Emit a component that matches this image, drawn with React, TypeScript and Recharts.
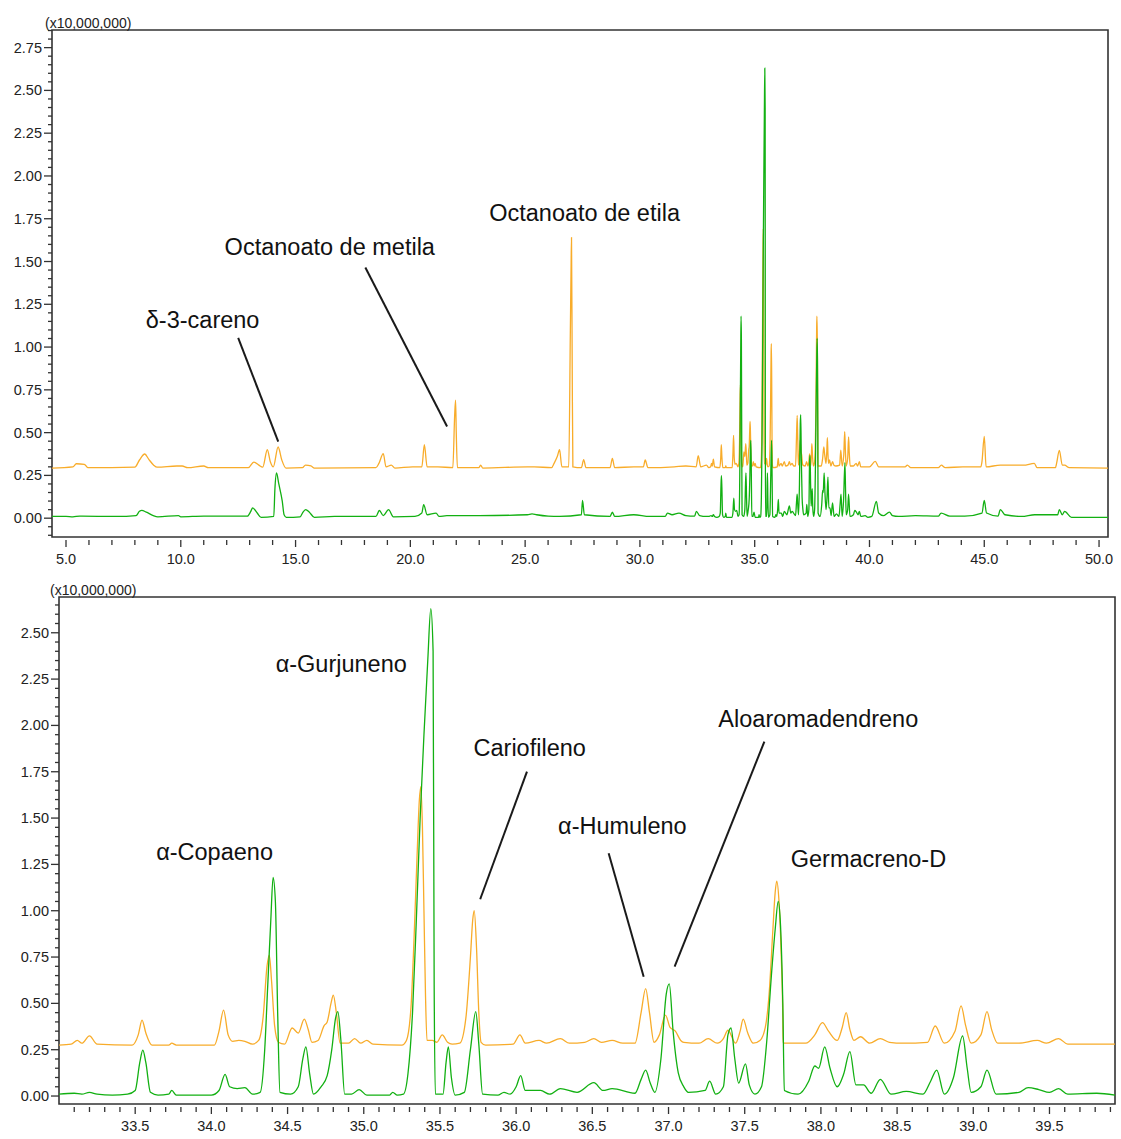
import React from "react";
import { LineChart, Line, XAxis, YAxis, ReferenceLine, ReferenceDot, ReferenceArea } from "recharts";

type Pt = [number, number];

const FONT = "'Liberation Sans', Arial, sans-serif";
const ORANGE = "#F8AC2A";
const GREEN = "#12B012";
const AXIS = "#333";

// retention time (min), intensity (x10,000,000)
const orangeEarly: Pt[] = [
  [4.39, 0.293], [5.3, 0.3], [5.45, 0.318], [5.8, 0.315], [5.95, 0.295], [8.0, 0.298], [8.2, 0.34],
  [8.43, 0.375], [8.6, 0.345], [8.82, 0.31], [8.97, 0.298], [9.83, 0.305], [10.06, 0.305], [10.3, 0.295],
  [11.0, 0.305], [11.2, 0.295], [12.94, 0.295], [13.18, 0.328], [13.4, 0.31], [13.57, 0.298], [13.77, 0.4],
  [13.9, 0.33], [14.03, 0.3], [14.24, 0.416], [14.4, 0.34], [14.58, 0.293], [15.3, 0.295], [15.43, 0.31],
  [15.67, 0.305], [15.82, 0.293], [18.5, 0.295], [18.63, 0.32], [18.82, 0.377], [18.94, 0.3], [19.17, 0.31],
  [19.33, 0.293], [20.1, 0.3], [20.3, 0.3], [20.5, 0.3], [20.61, 0.43], [20.73, 0.3], [21.2, 0.3],
  [21.85, 0.295], [21.93, 0.6], [21.97, 0.69], [22.0, 0.5], [22.05, 0.295], [22.98, 0.295], [23.06, 0.31],
  [23.15, 0.293], [25.1, 0.3], [25.4, 0.3], [26.15, 0.295], [26.26, 0.32], [26.4, 0.36], [26.5, 0.4],
  [26.6, 0.3], [26.9, 0.3], [26.97, 1.1], [27.0, 1.45], [27.02, 1.64], [27.05, 0.9], [27.08, 0.3],
  [27.45, 0.295], [27.55, 0.342], [27.65, 0.295], [28.7, 0.295], [28.8, 0.35], [28.9, 0.295], [29.74, 0.3],
  [29.9, 0.3], [30.15, 0.3], [30.23, 0.34], [30.35, 0.295], [31.5, 0.3], [32.0, 0.305], [32.45, 0.3],
  [32.54, 0.365], [32.65, 0.3], [32.9, 0.31],
];

const orangeLate: Pt[] = [
  [40.0, 0.3], [40.25, 0.332], [40.4, 0.3], [41.0, 0.3], [41.55, 0.3], [41.65, 0.31], [41.8, 0.295],
  [43.0, 0.295], [43.13, 0.31], [43.3, 0.295], [44.07, 0.3], [44.85, 0.3], [44.9, 0.33], [45.0, 0.478],
  [45.08, 0.3], [45.7, 0.31], [46.71, 0.31], [47.18, 0.32], [47.3, 0.295], [48.1, 0.295], [48.15, 0.32],
  [48.27, 0.396], [48.4, 0.31], [48.5, 0.31], [48.7, 0.295], [50.39, 0.293],
];

const greenEarly: Pt[] = [
  [4.39, 0.01], [5.0, 0.01], [5.3, 0.008], [5.6, 0.012], [7.2, 0.01], [8.05, 0.015], [8.2, 0.04],
  [8.3, 0.046], [8.5, 0.035], [8.8, 0.015], [9.0, 0.008], [9.9, 0.015], [10.0, 0.008], [11.0, 0.012],
  [12.0, 0.012], [12.9, 0.012], [13.05, 0.04], [13.13, 0.06], [13.33, 0.03], [13.5, 0.005], [14.05, 0.01],
  [14.1, 0.17], [14.17, 0.264], [14.27, 0.2], [14.42, 0.1], [14.5, 0.02], [14.6, 0.005], [15.2, 0.008],
  [15.3, 0.03], [15.44, 0.05], [15.6, 0.035], [15.82, 0.005], [16.7, 0.01], [18.5, 0.01], [18.65, 0.045],
  [18.82, 0.015], [19.05, 0.05], [19.26, 0.008], [20.2, 0.01], [20.5, 0.03], [20.58, 0.079], [20.73, 0.02],
  [21.12, 0.03], [21.25, 0.01], [21.59, 0.015], [22.99, 0.015], [25.1, 0.02], [25.3, 0.025], [25.5, 0.02],
  [26.0, 0.012], [26.5, 0.01], [27.45, 0.02], [27.5, 0.104], [27.58, 0.02], [28.7, 0.01], [28.8, 0.035],
  [28.9, 0.01], [29.73, 0.02], [30.43, 0.01], [31.1, 0.01], [31.2, 0.03], [31.4, 0.02], [31.7, 0.03],
  [32.0, 0.015], [32.38, 0.012], [32.46, 0.04], [32.6, 0.015], [32.9, 0.01],
];

const greenLate: Pt[] = [
  [40.1, 0.01], [40.3, 0.098], [40.4, 0.03], [40.6, 0.015], [40.87, 0.035], [41.0, 0.015], [41.26, 0.01],
  [42.0, 0.015], [43.0, 0.012], [43.12, 0.03], [43.5, 0.012], [44.15, 0.012], [44.9, 0.03], [45.0, 0.104],
  [45.1, 0.03], [45.6, 0.012], [45.7, 0.05], [45.9, 0.02], [46.63, 0.01], [47.2, 0.02], [48.2, 0.02],
  [48.27, 0.05], [48.4, 0.02], [48.5, 0.04], [48.8, 0.005], [50.39, 0.005],
];

// 33.0 - 39.93 min
const orangeDetail: Pt[] = [
  [33.0, 0.275], [33.08, 0.28], [33.12, 0.3], [33.15, 0.285], [33.2, 0.325], [33.25, 0.28], [33.48, 0.275],
  [33.52, 0.33], [33.545, 0.41], [33.57, 0.34], [33.61, 0.275], [33.72, 0.275], [33.74, 0.285], [33.77, 0.275],
  [34.02, 0.275], [34.05, 0.35], [34.08, 0.464], [34.11, 0.33], [34.14, 0.295], [34.18, 0.3], [34.22, 0.295],
  [34.27, 0.28], [34.31, 0.3], [34.34, 0.43], [34.365, 0.7], [34.38, 0.76], [34.395, 0.62], [34.415, 0.38],
  [34.44, 0.29], [34.48, 0.28], [34.53, 0.367], [34.57, 0.34], [34.61, 0.415], [34.635, 0.36], [34.66, 0.29],
  [34.7, 0.3], [34.74, 0.38], [34.76, 0.4], [34.785, 0.5], [34.8, 0.545], [34.82, 0.45], [34.845, 0.285],
  [34.9, 0.285], [34.94, 0.31], [34.98, 0.285], [35.02, 0.3], [35.06, 0.28], [35.25, 0.275], [35.28, 0.3],
  [35.31, 0.48], [35.33, 0.85], [35.35, 1.3], [35.365, 1.6], [35.375, 1.67], [35.385, 1.45], [35.395, 1.0],
  [35.405, 0.55], [35.415, 0.3], [35.45, 0.3], [35.48, 0.29], [35.515, 0.33], [35.55, 0.29], [35.58, 0.28],
  [35.63, 0.285], [35.67, 0.42], [35.7, 0.75], [35.715, 0.95], [35.725, 1.0], [35.74, 0.8], [35.755, 0.45],
  [35.77, 0.29], [35.8, 0.275], [35.98, 0.28], [36.025, 0.33], [36.06, 0.285], [36.15, 0.3], [36.2, 0.285],
  [36.29, 0.31], [36.35, 0.285], [36.45, 0.29], [36.51, 0.31], [36.56, 0.29], [36.63, 0.3], [36.7, 0.285],
  [36.78, 0.285], [36.82, 0.45], [36.85, 0.58], [36.875, 0.45], [36.905, 0.29], [36.94, 0.33], [36.98, 0.437],
  [37.01, 0.37], [37.045, 0.35], [37.08, 0.3], [37.1, 0.29], [37.2, 0.285], [37.26, 0.31], [37.32, 0.285],
  [37.36, 0.31], [37.39, 0.355], [37.44, 0.285], [37.47, 0.35], [37.49, 0.415], [37.52, 0.34], [37.556, 0.285],
  [37.6, 0.3], [37.635, 0.37], [37.66, 0.55], [37.685, 0.9], [37.7, 1.1], [37.71, 1.16], [37.725, 1.05],
  [37.74, 0.75], [37.75, 0.42], [37.752, 0.285], [37.9, 0.285], [37.96, 0.33], [38.01, 0.396], [38.05, 0.35],
  [38.107, 0.3], [38.14, 0.37], [38.166, 0.45], [38.19, 0.36], [38.217, 0.3], [38.26, 0.32], [38.32, 0.285],
  [38.39, 0.31], [38.45, 0.29], [38.54, 0.285], [38.7, 0.29], [38.75, 0.378], [38.81, 0.285], [38.88, 0.35],
  [38.92, 0.486], [38.95, 0.38], [38.986, 0.285], [39.05, 0.33], [39.09, 0.455], [39.12, 0.36], [39.16, 0.285],
  [39.3, 0.285], [39.42, 0.3], [39.48, 0.285], [39.56, 0.31], [39.62, 0.28], [39.93, 0.28],
];

const greenDetail: Pt[] = [
  [33.0, 0.01], [33.1, 0.015], [33.15, 0.01], [33.2, 0.02], [33.25, 0.01], [33.35, 0.005], [33.45, 0.01],
  [33.5, 0.03], [33.53, 0.18], [33.55, 0.248], [33.57, 0.18], [33.6, 0.02], [33.65, 0.005], [33.72, 0.01],
  [33.74, 0.03], [33.77, 0.005], [34.0, 0.005], [34.05, 0.03], [34.09, 0.117], [34.12, 0.05], [34.17, 0.04],
  [34.22, 0.045], [34.27, 0.01], [34.32, 0.02], [34.35, 0.25], [34.37, 0.6], [34.39, 0.95], [34.405, 1.18],
  [34.42, 1.05], [34.435, 0.45], [34.45, 0.02], [34.52, 0.01], [34.57, 0.05], [34.6, 0.2], [34.62, 0.265],
  [34.645, 0.12], [34.67, 0.01], [34.72, 0.05], [34.76, 0.11], [34.79, 0.25], [34.815, 0.42], [34.83, 0.455],
  [34.85, 0.3], [34.875, 0.01], [34.92, 0.01], [34.97, 0.035], [35.02, 0.005], [35.17, 0.005], [35.19, 0.02],
  [35.22, 0.005], [35.26, 0.01], [35.29, 0.12], [35.32, 0.45], [35.345, 0.95], [35.37, 1.5], [35.395, 1.95],
  [35.42, 2.35], [35.44, 2.63], [35.455, 2.4], [35.462, 0.6], [35.47, 0.01], [35.52, 0.01], [35.54, 0.18],
  [35.555, 0.265], [35.575, 0.1], [35.6, 0.005], [35.66, 0.02], [35.7, 0.25], [35.735, 0.455], [35.755, 0.28],
  [35.78, 0.01], [35.88, 0.005], [35.92, 0.02], [35.96, 0.01], [36.0, 0.05], [36.03, 0.11], [36.06, 0.03],
  [36.16, 0.03], [36.22, 0.01], [36.29, 0.04], [36.4, 0.02], [36.51, 0.072], [36.57, 0.03], [36.63, 0.04],
  [36.78, 0.015], [36.82, 0.09], [36.85, 0.14], [36.88, 0.07], [36.91, 0.02], [36.95, 0.2], [36.985, 0.55],
  [37.005, 0.605], [37.03, 0.35], [37.064, 0.125], [37.1, 0.05], [37.13, 0.02], [37.24, 0.03], [37.27, 0.08],
  [37.31, 0.01], [37.36, 0.05], [37.39, 0.33], [37.41, 0.367], [37.435, 0.2], [37.46, 0.07], [37.505, 0.173],
  [37.53, 0.06], [37.567, 0.01], [37.61, 0.05], [37.645, 0.3], [37.675, 0.65], [37.7, 0.9], [37.72, 1.05],
  [37.735, 0.92], [37.75, 0.5], [37.76, 0.03], [37.85, 0.01], [37.92, 0.08], [37.96, 0.162], [37.985, 0.15],
  [38.025, 0.265], [38.06, 0.15], [38.107, 0.05], [38.15, 0.12], [38.19, 0.24], [38.23, 0.06], [38.28, 0.06],
  [38.33, 0.015], [38.39, 0.09], [38.46, 0.01], [38.56, 0.025], [38.67, 0.01], [38.72, 0.08], [38.76, 0.14],
  [38.81, 0.01], [38.87, 0.1], [38.93, 0.324], [38.96, 0.15], [38.986, 0.02], [39.05, 0.05], [39.09, 0.14],
  [39.15, 0.01], [39.3, 0.02], [39.36, 0.045], [39.43, 0.035], [39.5, 0.02], [39.56, 0.04], [39.62, 0.01],
  [39.81, 0.015], [39.93, 0.005],
];

const topXMajor = [5, 10, 15, 20, 25, 30, 35, 40, 45, 50];
const bottomXMajor = [33.5, 34.0, 34.5, 35.0, 35.5, 36.0, 36.5, 37.0, 37.5, 38.0, 38.5, 39.0, 39.5];
const topYMajor = [0, 0.25, 0.5, 0.75, 1.0, 1.25, 1.5, 1.75, 2.0, 2.25, 2.5, 2.75];
const bottomYMajor = [0, 0.25, 0.5, 0.75, 1.0, 1.25, 1.5, 1.75, 2.0, 2.25, 2.5];

const topLabels = [
  { text: "δ-3-careno", t: 10.95, v: 1.159 },
  { text: "Octanoato de metila", t: 16.49, v: 1.586 },
  { text: "Octanoato de etila", t: 27.59, v: 1.784 },
];
const topLeaders: [Pt, Pt][] = [
  [[12.5, 1.054], [14.245, 0.447]],
  [[18.04, 1.465], [21.6, 0.536]],
];
const bottomLabels = [
  { text: "α-Gurjuneno", t: 34.852, v: 2.333 },
  { text: "Cariofileno", t: 36.089, v: 1.879 },
  { text: "α-Copaeno", t: 34.021, v: 1.319 },
  { text: "α-Humuleno", t: 36.697, v: 1.458 },
  { text: "Aloaromadendreno", t: 37.983, v: 2.034 },
  { text: "Germacreno-D", t: 38.312, v: 1.278 },
];
const bottomLeaders: [Pt, Pt][] = [
  [[36.071, 1.751], [35.764, 1.062]],
  [[36.607, 1.31], [36.837, 0.644]],
  [[37.629, 1.913], [37.04, 0.698]],
];

const TOP_X: [number, number] = [4.39, 50.39];
const TOP_Y: [number, number] = [-0.11, 2.853];
const BOT_X: [number, number] = [33.0, 39.93];
const BOT_Y: [number, number] = [-0.043, 2.693];
const TOP_ORANGE_SHIFT = 0.02;

const range = (a: number, b: number, step: number) => {
  const out: number[] = [];
  const n = Math.round((b - a) / step);
  for (let i = 0; i <= n; i++) out.push(Math.round((a + i * step) * 1000) / 1000);
  return out;
};

const rows = (pts: Pt[]) => pts.map(([t, v]) => ({ t, v }));

const topOrange = rows([...orangeEarly, ...orangeDetail.map(([t, v]) => [t, v + TOP_ORANGE_SHIFT] as Pt), ...orangeLate]);
const topGreen = rows([...greenEarly, ...greenDetail, ...greenLate]);
const botOrange = rows(orangeDetail);
const botGreen = rows(greenDetail);

const near = (list: number[], v: number) => list.some((m) => Math.abs(m - v) < 1e-6);

const makeXTick = (major: number[], digits: number) => (props: any) => {
  const { x, y, payload } = props;
  const v = payload.value as number;
  const isMajor = near(major, v);
  return (
    <g>
      <line x1={x} x2={x} y1={y + 3} y2={y + (isMajor ? 10 : 8)} stroke={AXIS} strokeWidth={1.3} />
      {isMajor && (
        <text x={x} y={y + 22} textAnchor="middle" dominantBaseline="central" fontSize={14.5} fill="#222" fontFamily={FONT}>
          {v.toFixed(digits)}
        </text>
      )}
    </g>
  );
};

const makeYTick = (major: number[]) => (props: any) => {
  const { x, y, payload } = props;
  const v = payload.value as number;
  const isMajor = near(major, v);
  return (
    <g>
      <line x1={x - (isMajor ? 8 : 4)} x2={x} y1={y} y2={y} stroke={AXIS} strokeWidth={1.3} />
      {isMajor && (
        <text x={x - 10} y={y} textAnchor="end" dominantBaseline="central" fontSize={14.5} fill="#222" fontFamily={FONT}>
          {v.toFixed(2)}
        </text>
      )}
    </g>
  );
};

const labelShape = (text: string) => (p: any) => (
  <text x={p.cx} y={p.cy} textAnchor="middle" dominantBaseline="central" fontSize={23.5} fill="#111" fontFamily={FONT}>
    {text}
  </text>
);

type PanelProps = {
  width: number;
  height: number;
  margin: { top: number; right: number; bottom: number; left: number };
  yWidth: number;
  xDomain: [number, number];
  yDomain: [number, number];
  xTicks: number[];
  xMajor: number[];
  yTicks: number[];
  yMajor: number[];
  orange: { t: number; v: number }[];
  green: { t: number; v: number }[];
  labels: { text: string; t: number; v: number }[];
  leaders: [Pt, Pt][];
};

function Panel(p: PanelProps) {
  return (
    <LineChart width={p.width} height={p.height} margin={p.margin}>
      <XAxis
        type="number"
        dataKey="t"
        domain={p.xDomain}
        allowDataOverflow
        ticks={p.xTicks}
        interval={0}
        tickSize={0}
        tickMargin={0}
        tickLine={false}
        axisLine={false}
        height={30}
        tick={makeXTick(p.xMajor, 1)}
      />
      <YAxis
        type="number"
        dataKey="v"
        domain={p.yDomain}
        allowDataOverflow
        ticks={p.yTicks}
        interval={0}
        tickSize={0}
        tickMargin={0}
        tickLine={false}
        axisLine={false}
        width={p.yWidth}
        tick={makeYTick(p.yMajor)}
      />
      <Line data={p.orange} dataKey="v" type="monotone" stroke={ORANGE} strokeWidth={1.3} dot={false} isAnimationActive={false} />
      <Line data={p.green} dataKey="v" type="monotone" stroke={GREEN} strokeWidth={1.3} dot={false} isAnimationActive={false} />
      {p.leaders.map(([a, b], i) => (
        <ReferenceLine
          key={"l" + i}
          segment={[{ x: a[0], y: a[1] }, { x: b[0], y: b[1] }]}
          stroke="#1a1a1a"
          strokeWidth={2}
          ifOverflow="visible"
        />
      ))}
      {p.labels.map((l) => (
        <ReferenceDot key={l.text} x={l.t} y={l.v} r={1} ifOverflow="visible" shape={labelShape(l.text)} />
      ))}
      <ReferenceArea
        x1={p.xDomain[0]}
        x2={p.xDomain[1]}
        y1={p.yDomain[0]}
        y2={p.yDomain[1]}
        fill="none"
        fillOpacity={0}
        stroke={AXIS}
        strokeWidth={1.6}
        ifOverflow="visible"
      />
    </LineChart>
  );
}

const multiplierStyle: React.CSSProperties = {
  position: "absolute",
  fontSize: 14,
  lineHeight: "16px",
  color: "#222",
  fontFamily: FONT,
  whiteSpace: "nowrap",
};

export default function App() {
  return (
    <div style={{ position: "absolute", left: 0, top: 0, width: 1121, height: 1139, background: "#fff", fontFamily: FONT }}>
      <div style={{ position: "absolute", left: 0, top: 0 }}>
        <Panel
          width={1121}
          height={575}
          margin={{ top: 30, right: 13, bottom: 8, left: 0 }}
          yWidth={52}
          xDomain={TOP_X}
          yDomain={TOP_Y}
          xTicks={range(5, 50, 1)}
          xMajor={topXMajor}
          yTicks={range(-0.1, 2.85, 0.05)}
          yMajor={topYMajor}
          orange={topOrange}
          green={topGreen}
          labels={topLabels}
          leaders={topLeaders}
        />
      </div>
      <div style={{ position: "absolute", left: 0, top: 575 }}>
        <Panel
          width={1121}
          height={564}
          margin={{ top: 22, right: 6, bottom: 5, left: 0 }}
          yWidth={59}
          xDomain={BOT_X}
          yDomain={BOT_Y}
          xTicks={range(33.1, 39.9, 0.1)}
          xMajor={bottomXMajor}
          yTicks={range(0, 2.65, 0.05)}
          yMajor={bottomYMajor}
          orange={botOrange}
          green={botGreen}
          labels={bottomLabels}
          leaders={bottomLeaders}
        />
      </div>
      <div style={{ ...multiplierStyle, left: 45, top: 15 }}>(x10,000,000)</div>
      <div style={{ ...multiplierStyle, left: 50, top: 582 }}>(x10,000,000)</div>
    </div>
  );
}
